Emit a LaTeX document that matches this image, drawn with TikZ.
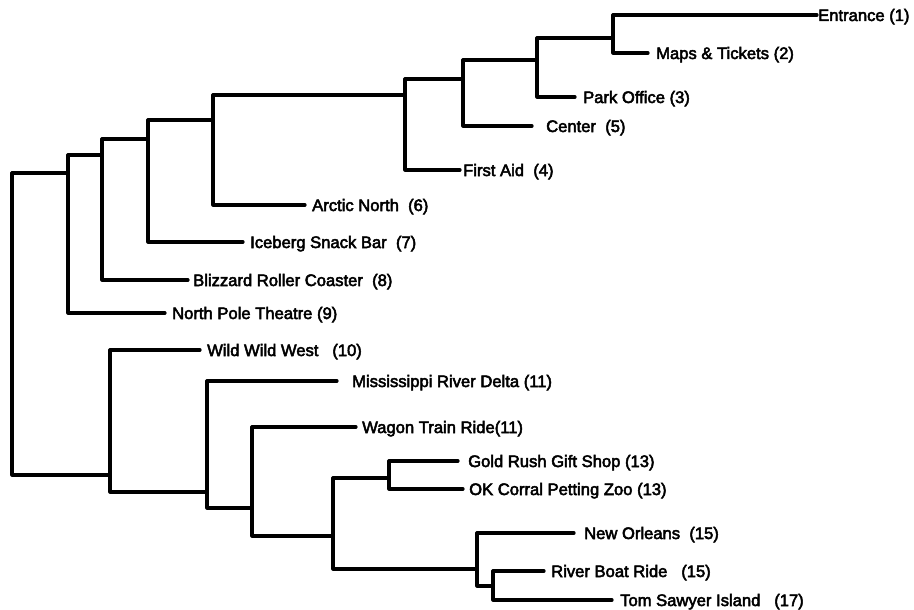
\documentclass[tikz,border=0pt]{standalone}
\usepackage{fontspec}
\newfontfamily\lblfont{Liberation Sans}[FakeBold=3]
\begin{document}
\begin{tikzpicture}[x=1pt,y=-1pt,
  br/.style={line width=3.2pt, line join=round, line cap=round},
  lbl/.style={anchor=base west, inner sep=0pt, font=\lblfont\fontsize{16.6}{20}\selectfont}]
\useasboundingbox[fill=white] (0,0) rectangle (914,610);
\newcommand\leafat[5]{\coordinate (#1) at (#3,#2); \node[lbl] (#1t) at (#4,#2+6) {#5};}
% leaves: name, y, line end x, text x, label
\leafat{l1}{15}{817}{818}{Entrance (1)}
\leafat{l2}{53}{648}{656}{Maps \& Tickets (2)}
\leafat{l3}{97}{575}{583}{Park Office (3)}
\leafat{l4}{126}{532}{546}{Center\ \ (5)}
\leafat{l5}{170}{460}{463}{First Aid\ \ (4)}
\leafat{l6}{205}{305}{312}{Arctic North\ \ (6)}
\leafat{l7}{242}{243}{250}{Iceberg Snack Bar\ \ (7)}
\leafat{l8}{280}{188}{193}{Blizzard Roller Coaster\ \ (8)}
\leafat{l9}{313}{165}{172}{North Pole Theatre (9)}
\leafat{l10}{350}{200}{207}{Wild Wild West\ \ \ (10)}
\leafat{l11}{381}{337}{352}{Mississippi River Delta (11)}
\leafat{l12}{427}{356}{362}{Wagon Train Ride(11)}
\leafat{l13}{461}{458}{468}{Gold Rush Gift Shop (13)}
\leafat{l14}{489}{463}{469}{OK Corral Petting Zoo (13)}
\leafat{l15}{533}{574}{584}{New Orleans\ \ (15)}
\leafat{l16}{571}{544}{551}{River Boat Ride\ \ \ (15)}
\leafat{l17}{600}{612}{620}{Tom Sawyer Island\ \ \ (17)}
% internal junctions
\coordinate (root) at (12,173);
\coordinate (H) at (68,173);
\coordinate (G) at (102,155);
\coordinate (F) at (148,139);
\coordinate (E) at (213,120);
\coordinate (D) at (405,95);
\coordinate (C) at (463,79);
\coordinate (B) at (537,60);
\coordinate (A) at (613,38);
\coordinate (I) at (110,475);
\coordinate (J) at (207,492);
\coordinate (K) at (252,508);
\coordinate (L) at (333,536);
\coordinate (M) at (389,478);
\coordinate (N) at (477,569);
\coordinate (O) at (493,586);
% connectors
\draw[br] (root) |- (H);
\draw[br] (root) |- (I);
\draw[br] (H) |- (G);
\draw[br] (H) |- (l9);
\draw[br] (G) |- (F);
\draw[br] (G) |- (l8);
\draw[br] (F) |- (E);
\draw[br] (F) |- (l7);
\draw[br] (E) |- (D);
\draw[br] (E) |- (l6);
\draw[br] (D) |- (C);
\draw[br] (D) |- (l5);
\draw[br] (C) |- (B);
\draw[br] (C) |- (l4);
\draw[br] (B) |- (A);
\draw[br] (B) |- (l3);
\draw[br] (A) |- (l1);
\draw[br] (A) |- (l2);
\draw[br] (I) |- (l10);
\draw[br] (I) |- (J);
\draw[br] (J) |- (l11);
\draw[br] (J) |- (K);
\draw[br] (K) |- (l12);
\draw[br] (K) |- (L);
\draw[br] (L) |- (M);
\draw[br] (L) |- (N);
\draw[br] (M) |- (l13);
\draw[br] (M) |- (l14);
\draw[br] (N) |- (l15);
\draw[br] (N) |- (O);
\draw[br] (O) |- (l16);
\draw[br] (O) |- (l17);
\end{tikzpicture}
\end{document}
